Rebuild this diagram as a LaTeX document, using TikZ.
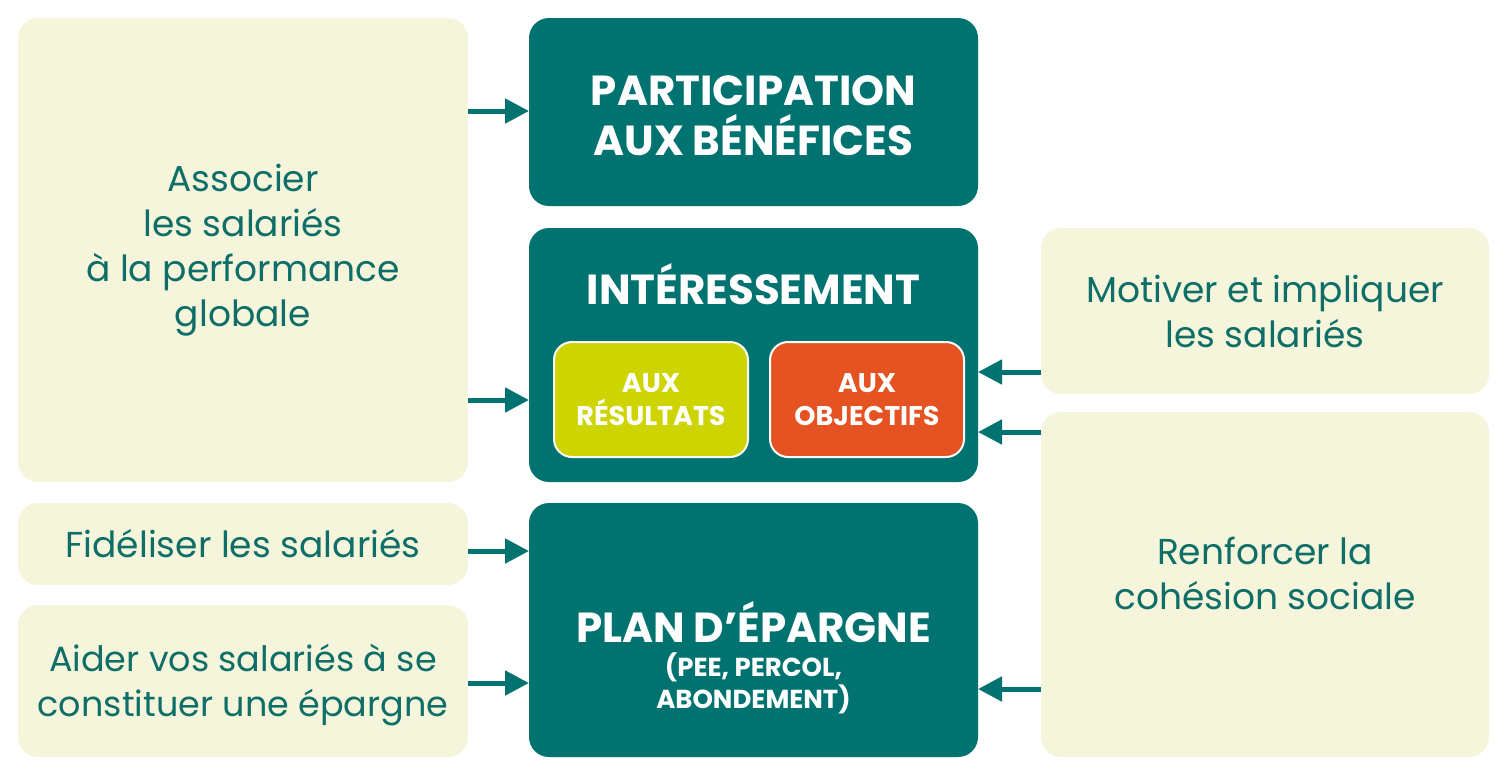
\documentclass[tikz,border=0pt]{standalone}
\usepackage{fontspec}
\setmainfont{Poppins}
\usetikzlibrary{arrows.meta}
\definecolor{teal1}{HTML}{007370}
\definecolor{cream}{HTML}{F5F5DC}
\definecolor{lime}{HTML}{CDD400}
\definecolor{orng}{HTML}{E55322}
\definecolor{tealtxt}{HTML}{0F6E67}
\tikzset{
  base/.style={rounded corners=10pt, inner sep=0pt, outer sep=0pt, align=center},
  cbox/.style={base, fill=cream, text=tealtxt, font=\fontsize{18}{22.5}\selectfont},
  ctext/.style={align=center, text=tealtxt, inner sep=0pt, font=\fontsize{18}{22.5}\selectfont},
  tbox/.style={base, fill=teal1, text=white, font=\bfseries\fontsize{21}{25}\selectfont},
  ttext/.style={text=white, inner sep=0pt, font=\bfseries\fontsize{21}{25}\selectfont},
  sbox/.style={base, rounded corners=9pt, draw=white, line width=1pt, text=white, font=\bfseries\fontsize{13.5}{16.5}\selectfont},
  arr/.style={draw=teal1, line width=2.5pt, -{Triangle[length=12pt,width=12pt]}}
}
\begin{document}
\begin{tikzpicture}[x=0.5pt,y=-0.5pt]
\useasboundingbox (0,0) rectangle (1507,772);
% left boxes
\node[cbox, minimum width=225pt, minimum height=232pt] (assoc) at (243,250) {Associer\\les salariés\\à la performance\\globale};
\node[cbox, minimum width=225pt, minimum height=41pt] (fidel) at (243,544) {Fidéliser les salariés};
\node[cbox, minimum width=225pt, minimum height=76pt] (aider) at (243,681) {};
\node[ctext, font=\fontsize{17.5}{22.5}\selectfont] (aidert) at (243,685) {Aider vos salariés à se\\constituer une épargne};
% middle boxes
\node[base, fill=teal1, minimum width=224.5pt, minimum height=94pt] (part) at (753.5,112) {};
\node[ttext, align=center] (partt) at (753.5,116) {PARTICIPATION\\AUX BÉNÉFICES};
\node[base, fill=teal1, minimum width=224.5pt, minimum height=127pt] (inter) at (753.5,355) {};
\node[ttext] (intert) at (753.5,284) {INTÉRESSEMENT};
\node[sbox, fill=lime, minimum width=97pt, minimum height=57.5pt] (res) at (651,399.5) {AUX\\RÉSULTATS};
\node[sbox, fill=orng, minimum width=97pt, minimum height=57.5pt] (obj) at (867,399.5) {AUX\\OBJECTIFS};
\node[base, fill=teal1, minimum width=224.5pt, minimum height=127pt] (plan) at (753.5,630) {};
\node[ttext] (plant) at (753.5,622) {PLAN D’ÉPARGNE};
\node[text=white, align=center, inner sep=0pt, font=\bfseries\fontsize{13}{16}\selectfont] (plans) at (753.5,683) {(PEE, PERCOL,\\ABONDEMENT)};
% right boxes
\node[cbox, minimum width=224pt, minimum height=83pt] (motiv) at (1265,311) {Motiver et impliquer\\les salariés};
\node[cbox, minimum width=224pt, minimum height=172.5pt] (renf) at (1265,584.5) {};
\node[ctext] (renft) at (1265,573) {Renforcer la\\cohésion sociale};
% arrows
\draw[arr] (assoc.east |- 0,111) -- (part.west |- 0,111);
\draw[arr] (assoc.east |- 0,400) -- (inter.west |- 0,400);
\draw[arr] (fidel.east |- 0,551) -- (plan.west |- 0,551);
\draw[arr] (aider.east |- 0,683) -- (plan.west |- 0,683);
\draw[arr] (motiv.west |- 0,372) -- (inter.east |- 0,372);
\draw[arr] (renf.west |- 0,432) -- (inter.east |- 0,432);
\draw[arr] (renf.west |- 0,689) -- (plan.east |- 0,689);
\end{tikzpicture}
\end{document}
